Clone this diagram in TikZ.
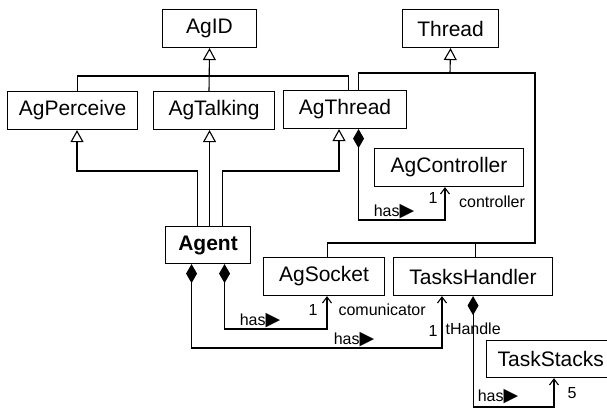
\documentclass[tikz,border=0pt]{standalone}
\usepackage{fontspec}
\setmainfont{Liberation Sans}
\newfontfamily\symfont{DejaVu Sans}
\usetikzlibrary{arrows.meta}

\newcommand{\hasto}{has{\symfont\fontsize{19}{19}\selectfont ▶}}

\begin{document}
\begin{tikzpicture}[
		x=1pt, y=1pt,
		line width=1.1pt,
		cls/.style={draw, anchor=north west, minimum height=38pt, inner sep=0pt, font=\fontsize{21}{25}\selectfont},
		lbl/.style={inner sep=0pt, font=\fontsize{16}{19}\selectfont},
		gen/.style={-{Triangle[open,length=12pt,width=13pt]}},
		comp/.style={{Diamond[length=19pt,width=11pt]}-{Straight Barb[length=6pt,width=9pt]}}
	]
		\useasboundingbox (0,0) rectangle (607,-408);
		\clip (0,0) rectangle (607,-408);

		% classes
		\node[cls, minimum width=94pt] (agid) at (162,-9) {AgID};
		\node[cls, minimum width=96pt] (thread) at (402,-9) {Thread};
		\node[cls, minimum width=130pt] (agperceive) at (7,-91) {AgPerceive};
		\node[cls, minimum width=121pt] (agtalking) at (153,-91) {AgTalking};
		\node[cls, minimum width=123pt] (agthread) at (283,-90) {AgThread};
		\node[cls, minimum width=149pt] (agcontroller) at (374,-148) {AgController};
		\node[cls, minimum width=85pt, minimum height=37pt, font=\fontsize{21}{25}\selectfont\bfseries] (agent) at (165,-226) {Agent};
		\node[cls, minimum width=121pt] (agsocket) at (263,-257) {AgSocket};
		\node[cls, minimum width=159pt] (taskshandler) at (393,-257) {TasksHandler};
		\node[cls, minimum height=37pt, text width=118pt, align=left, inner xsep=11pt] (taskstacks) at (486,-340) {TaskStacks};

		% bends
		\coordinate (idbus) at (209,-76);
		\coordinate (thbus) at (450,-73);
		\coordinate (hbus) at (535,-243);
		\coordinate (pbend) at (77,-171);
		\coordinate (tbend) at (339,-171);
		\coordinate (cbend) at (445,-220);
		\coordinate (sbend) at (327,-329);
		\coordinate (hbend) at (442,-348);
		\coordinate (kbend) at (554,-407);

		% generalizations
		\draw[gen] (agtalking.north -| idbus) -- (agid.south);
		\draw ([xshift=5]agperceive.north) |- (idbus) -| ([xshift=3]agthread.north);
		\draw[gen] (thbus) -- (thread.south);
		\draw ([xshift=13.5]agthread.north) |- (thbus) -| (hbus) -| ([xshift=3.5]agsocket.north);
		\draw ([xshift=2.5]taskshandler.north) -- ([xshift=2.5]taskshandler.north |- hbus);
		\draw[gen] ([xshift=-10.5]agent.north) |- (pbend) -- (pbend |- agperceive.south);
		\draw[gen] ([xshift=1.5]agent.north) -- ([xshift=1.5]agent.north |- agtalking.south);
		\draw[gen] ([xshift=14.5]agent.north) |- (tbend) -- (tbend |- agthread.south);

		% compositions
		\draw[comp] ([xshift=13.5]agthread.south) |- (cbend) -- (cbend |- agcontroller.south);
		\draw[comp] ([xshift=16.5]agent.south) |- (sbend) -- (sbend |- agsocket.south);
		\draw[comp] ([xshift=-16.5]agent.south) |- (hbend) -- (hbend |- taskshandler.south);
		\draw[comp] (taskshandler.south) |- (kbend) -- (kbend |- taskstacks.south);

		% labels
		\node[lbl] (hasc) at (394,-212) {\hasto};
		\node[lbl] (onec) at (433,-198) {1};
		\node[lbl] (rolec) at (492,-202) {controller};
		\node[lbl] (hass) at (260,-321) {\hasto};
		\node[lbl] (ones) at (313,-310) {1};
		\node[lbl, anchor=west] (roles) at (338,-310) {comunicator};
		\node[lbl] (hash) at (354,-340) {\hasto};
		\node[lbl] (oneh) at (433,-331) {1};
		\node[lbl, anchor=west] (roleh) at (445,-329) {tHandle};
		\node[lbl] (hask) at (498,-397) {\hasto};
		\node[lbl] (fivek) at (572,-393) {5};
	\end{tikzpicture}
\end{document}
